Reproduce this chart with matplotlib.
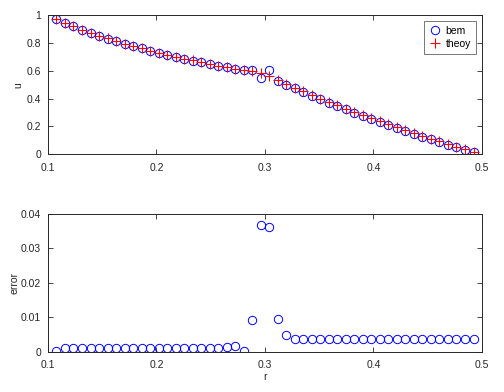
import numpy as np
import matplotlib
matplotlib.use('Agg')
import matplotlib.pyplot as plt
from matplotlib.ticker import FuncFormatter

# radial positions
r = [0.1078, 0.1157, 0.1235, 0.1314, 0.1392, 0.1471, 0.1549, 0.1627, 0.1706, 0.1784,
     0.1863, 0.1941, 0.2020, 0.2098, 0.2176, 0.2255, 0.2333, 0.2412, 0.2490, 0.2569,
     0.2647, 0.2725, 0.2804, 0.2882, 0.2961, 0.3039, 0.3118, 0.3196, 0.3275, 0.3353,
     0.3431, 0.3510, 0.3588, 0.3667, 0.3745, 0.3824, 0.3902, 0.3980, 0.4059, 0.4137,
     0.4216, 0.4294, 0.4373, 0.4451, 0.4529, 0.4608, 0.4686, 0.4765, 0.4843, 0.4922]

# theoretical solution
u_theory = [0.971, 0.944, 0.919, 0.895, 0.873, 0.852, 0.832, 0.813, 0.794, 0.777,
            0.761, 0.745, 0.729, 0.715, 0.701, 0.687, 0.674, 0.661, 0.649, 0.637,
            0.625, 0.614, 0.603, 0.595, 0.584, 0.563, 0.534, 0.506, 0.478, 0.452,
            0.425, 0.400, 0.375, 0.351, 0.327, 0.303, 0.280, 0.258, 0.236, 0.214,
            0.193, 0.172, 0.152, 0.131, 0.112, 0.092, 0.073, 0.055, 0.036, 0.018]

# bem solution
u_bem = [0.971, 0.943, 0.918, 0.894, 0.872, 0.851, 0.831, 0.812, 0.793, 0.776,
         0.760, 0.744, 0.728, 0.714, 0.700, 0.686, 0.673, 0.660, 0.648, 0.636,
         0.624, 0.613, 0.603, 0.604, 0.548, 0.603, 0.525, 0.501, 0.474, 0.448,
         0.421, 0.396, 0.371, 0.347, 0.323, 0.299, 0.276, 0.254, 0.232, 0.210,
         0.189, 0.168, 0.148, 0.127, 0.108, 0.088, 0.069, 0.051, 0.032, 0.014]

# absolute error
err = [0.0004, 0.0013, 0.0013, 0.0013, 0.0013, 0.0013, 0.0013, 0.0013, 0.0013, 0.0013,
       0.0013, 0.0013, 0.0013, 0.0013, 0.0013, 0.0013, 0.0013, 0.0013, 0.0013, 0.0013,
       0.0014, 0.0016, 0.0003, 0.0092, 0.0367, 0.0361, 0.0096, 0.0048, 0.0037, 0.0037,
       0.0037, 0.0037, 0.0037, 0.0037, 0.0037, 0.0037, 0.0037, 0.0037, 0.0037, 0.0037,
       0.0037, 0.0037, 0.0037, 0.0037, 0.0037, 0.0037, 0.0037, 0.0037, 0.0038, 0.0037]

plt.rcParams['font.family'] = ['Liberation Sans', 'DejaVu Sans']
plt.rcParams['font.size'] = 7.5
txt = '#262626'

fmt = FuncFormatter(lambda v, p: '%g' % round(v, 6))


def style(ax):
    ax.tick_params(direction='in', length=3.5, width=0.6, top=True, right=True,
                   colors=txt, labelsize=7.5)
    ax.tick_params(axis='x', pad=6)
    ax.tick_params(axis='y', pad=5)
    for s in ax.spines.values():
        s.set_linewidth(0.7)
        s.set_color(txt)
    ax.xaxis.set_major_formatter(fmt)
    ax.yaxis.set_major_formatter(fmt)


fig = plt.figure(figsize=(5.04, 3.92), dpi=100)

ax1 = fig.add_axes([0.0952, 0.6064, 0.8611, 0.3553])
ax1.plot(r, u_bem, 'o', mfc='none', mec='blue', ms=6, mew=0.7, label='bem')
ax1.plot(r, u_theory, '+', color='red', ms=6.5, mew=0.8, label='theoy')
ax1.set_xlim(0.1, 0.5)
ax1.set_ylim(0, 1)
ax1.set_xticks([0.1, 0.2, 0.3, 0.4, 0.5])
ax1.set_yticks([0, 0.2, 0.4, 0.6, 0.8, 1])
ax1.set_ylabel('u', color=txt, fontsize=7.5, labelpad=2)
style(ax1)
leg = ax1.legend(loc='upper right', fancybox=False, edgecolor='#555555',
                 fontsize=7.5, borderaxespad=0.6, handletextpad=0.5,
                 handlelength=1.1, borderpad=0.45, labelspacing=0.3)
leg.get_frame().set_linewidth(0.7)

ax2 = fig.add_axes([0.0952, 0.1020, 0.8611, 0.3528])
ax2.plot(r, err, 'o', mfc='none', mec='blue', ms=6, mew=0.7)
ax2.set_xlim(0.1, 0.5)
ax2.set_ylim(0, 0.04)
ax2.set_xticks([0.1, 0.2, 0.3, 0.4, 0.5])
ax2.set_yticks([0, 0.01, 0.02, 0.03, 0.04])
ax2.set_xlabel('r', color=txt, fontsize=7.5, labelpad=1)
ax2.set_ylabel('error', color=txt, fontsize=7.5, labelpad=1)
style(ax2)

fig.savefig('out.png', dpi=100)
